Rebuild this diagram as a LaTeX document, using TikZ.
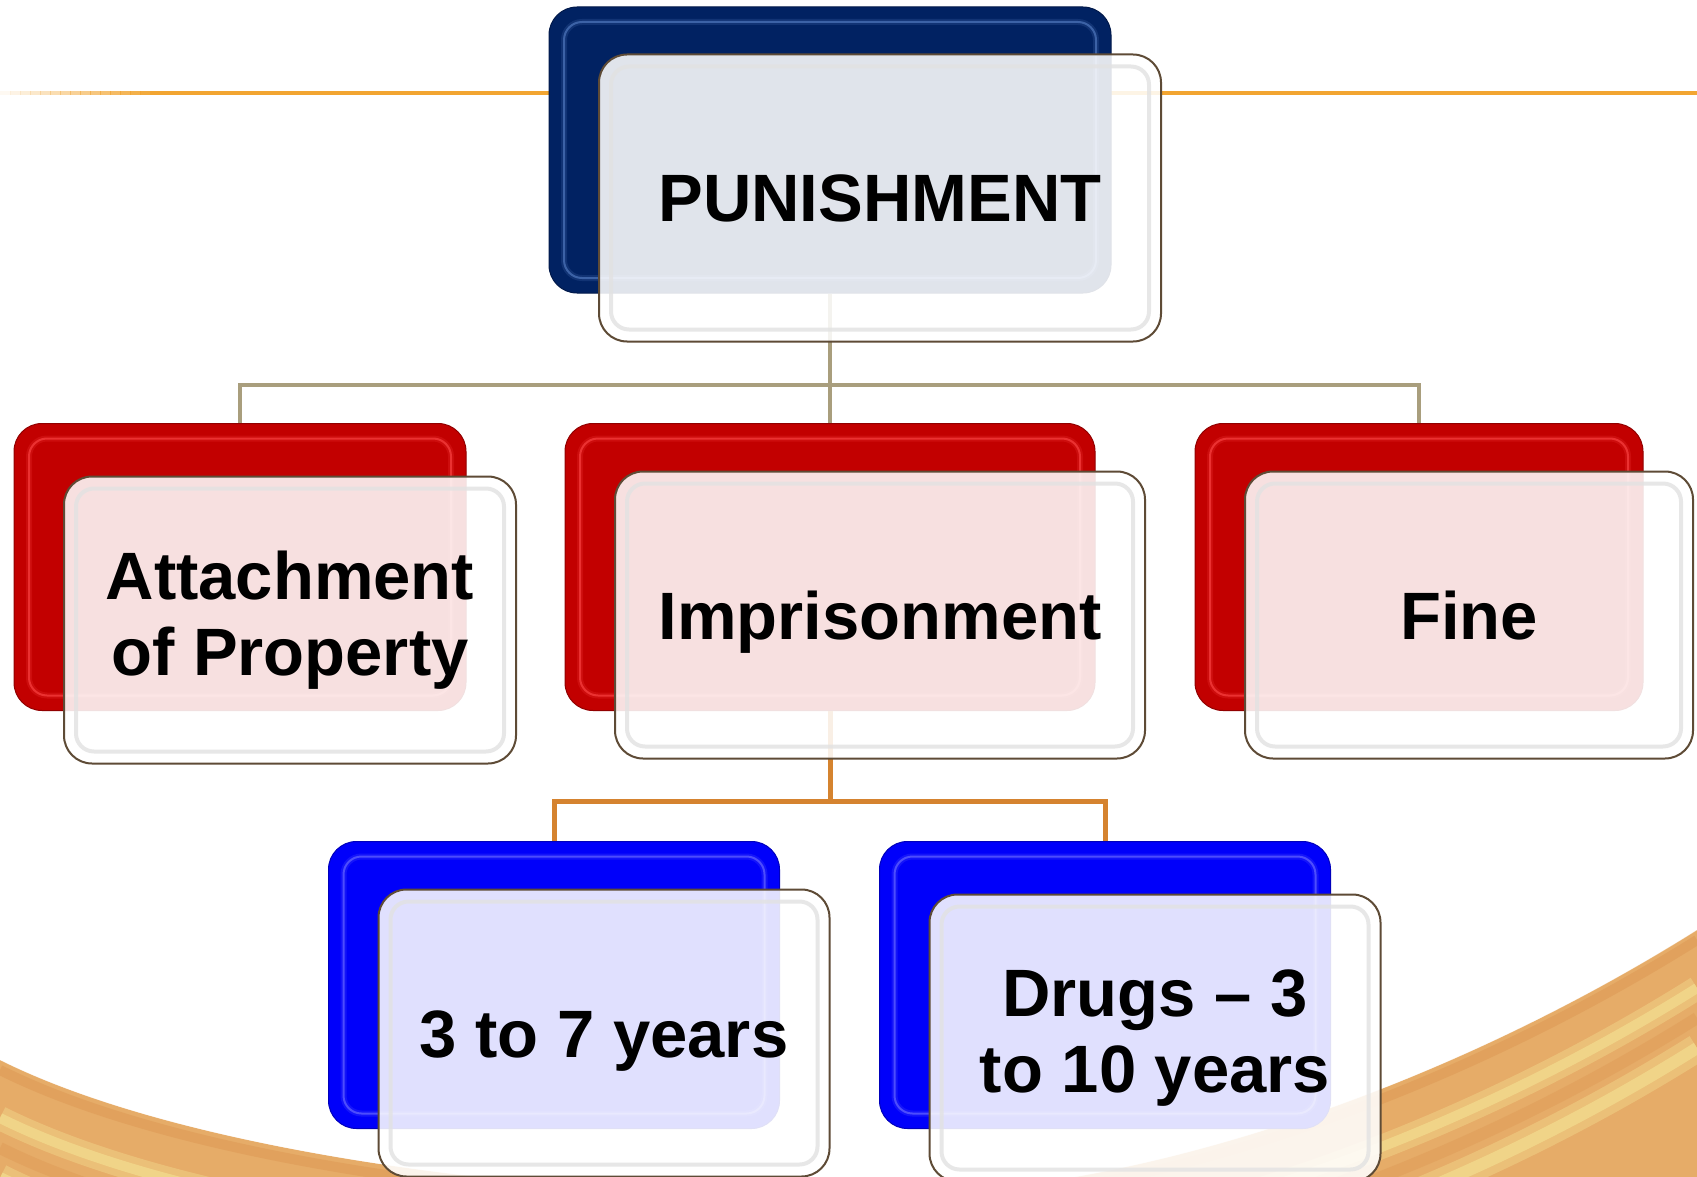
\documentclass[tikz,border=0pt]{standalone}
\usepackage{fontspec}
\setmainfont{Liberation Sans}

\definecolor{navyback}{HTML}{012262}
\definecolor{navyhl}{HTML}{5A82C8}
\definecolor{redback}{HTML}{C20000}
\definecolor{redhl}{HTML}{FF4A4A}
\definecolor{blueback}{HTML}{0000FA}
\definecolor{bluehl}{HTML}{7373FF}
\definecolor{framebrown}{HTML}{5E4B36}
\definecolor{rimgray}{HTML}{E2E2E2}
\definecolor{lineorange}{HTML}{F2A531}
\definecolor{toplink}{HTML}{A99E7D}
\definecolor{sublink}{HTML}{D5832F}
\definecolor{swirlorange}{HTML}{E6AC68}
\definecolor{swirldeep}{HTML}{DB9450}
\definecolor{swirlyellow}{HTML}{F2DA8C}

% gold band along the bottom edge, shifted down by #1
\newcommand\bandcurve[1]{(0,{1060+#1}) .. controls (200,{1160+#1}) and (600,{1205+#1}) .. (900,{1195+#1})
  .. controls (1150,{1190+#1}) and (1450,{1085+#1}) .. (1697,{930+#1})}

\tikzset{
  backbox/.style 2 args={rectangle, rounded corners=28pt, inner sep=0pt,
    fill=#1, draw=#1!75!black, line width=1pt,
    path picture={
      \draw[#2, line width=6pt, opacity=0.18, rounded corners=18pt]
        ([xshift=15pt,yshift=-15pt]path picture bounding box.north west) rectangle
        ([xshift=-15pt,yshift=15pt]path picture bounding box.south east);
      \draw[#2, line width=2pt, opacity=0.6, rounded corners=18pt]
        ([xshift=15pt,yshift=-15pt]path picture bounding box.north west) rectangle
        ([xshift=-15pt,yshift=15pt]path picture bounding box.south east);
    }},
  frontbox/.style={rectangle, rounded corners=28pt, inner sep=0pt,
    minimum width=#1, minimum height=287pt,
    fill=white, fill opacity=0.88, text opacity=1,
    draw=framebrown, line width=2pt, align=center,
    font=\fontsize{67}{76}\selectfont\bfseries,
    path picture={
      \draw[rimgray, line width=4pt, opacity=0.8, rounded corners=18pt]
        ([xshift=12pt,yshift=-12pt]path picture bounding box.north west) rectangle
        ([xshift=-12pt,yshift=12pt]path picture bounding box.south east);
    }},
  oneline/.style={text height=48pt, text depth=0pt},
  toplinkline/.style={draw=toplink, line width=4pt},
  sublinkline/.style={draw=sublink, line width=5pt},
}

\begin{document}
\begin{tikzpicture}[x=1pt, y=-1pt]
  \useasboundingbox (0,0) rectangle (1697,1177);
  \fill[white] (0,0) rectangle (1697,1177);

  % gold swirl at the bottom
  \begin{scope}
    \clip (0,0) rectangle (1697,1177);
    \fill[swirlorange] \bandcurve{0} -- (1697,1400) -- (0,1400) -- cycle;
    \draw[swirldeep, line width=10pt, opacity=0.45] \bandcurve{10};
    \draw[swirlyellow, line width=24pt, opacity=0.45] \bandcurve{58};
    \draw[swirlyellow, line width=10pt, opacity=0.8] \bandcurve{58};
    \draw[swirldeep, line width=12pt, opacity=0.35] \bandcurve{88};
    \draw[swirlyellow, line width=28pt, opacity=0.45] \bandcurve{118};
    \draw[swirlyellow, line width=12pt, opacity=0.8] \bandcurve{118};
    \draw[white, line width=4pt, opacity=0.35] \bandcurve{-2};
  \end{scope}

  % orange rule across the top, fading in from the left
  \foreach \i [evaluate=\i as \op using (\i+1)/16] in {0,...,15}
    \fill[lineorange, opacity=\op] ({\i*10},91) rectangle ({\i*10+10.5},95);
  \fill[lineorange] (160,91) rectangle (1697,95);

  % back plates
  \node[backbox={navyback}{navyhl}, minimum width=562pt, minimum height=286pt] (pun-b) at (830,150) {};
  \node[backbox={redback}{redhl}, minimum width=452pt, minimum height=287pt] (att-b) at (240,567) {};
  \node[backbox={redback}{redhl}, minimum width=530pt, minimum height=287pt] (imp-b) at (830,567) {};
  \node[backbox={redback}{redhl}, minimum width=448pt, minimum height=287pt] (fin-b) at (1419,567) {};
  \node[backbox={blueback}{bluehl}, minimum width=451pt, minimum height=287pt] (y37-b) at (554,985) {};
  \node[backbox={blueback}{bluehl}, minimum width=451pt, minimum height=287pt] (drg-b) at (1105,985) {};

  % connectors
  \draw[toplinkline] (pun-b.south) -- ++(0,91) -| (att-b.north);
  \draw[toplinkline] (pun-b.south) -- ++(0,91) -| (fin-b.north);
  \draw[toplinkline] (pun-b.south) -- (imp-b.north);
  \draw[sublinkline] (imp-b.south) -- ++(0,90) -| (y37-b.north);
  \draw[sublinkline] (imp-b.south) -- ++(0,90) -| (drg-b.north);

  % front plates with labels
  \node[frontbox=562pt, oneline] (pun) at (880,198) {PUNISHMENT};
  \node[frontbox=452pt] (att) at (290,620) {Attachment\\of Property};
  \node[frontbox=530pt, oneline] (imp) at (880,615) {Imprisonment};
  \node[frontbox=448pt, oneline] (fin) at (1469,615) {Fine};
  \node[frontbox=451pt, oneline] (y37) at (604,1033) {3 to 7 years};
  \node[frontbox=451pt] (drg) at (1155,1038) {Drugs -- 3\\to 10 years};
\end{tikzpicture}
\end{document}
